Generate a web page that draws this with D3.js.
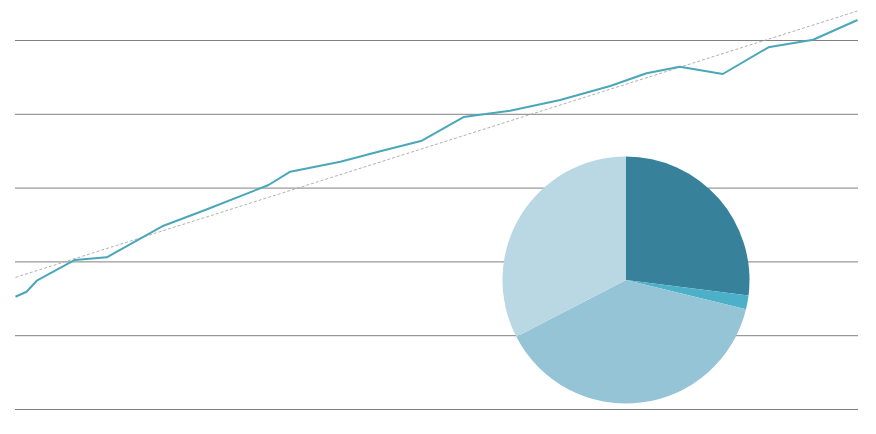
<!DOCTYPE html>
<html>
<head>
<meta charset="utf-8">
<script src="https://cdn.jsdelivr.net/npm/d3@7"></script>
<style>
  html, body { margin: 0; padding: 0; background: #fff; }
  svg { display: block; }
</style>
</head>
<body>
<svg id="chart" width="876" height="434"></svg>
<script>
// ---- data ----
const years = [2000.0, 2000.25, 2000.48, 2001.34, 2002.06, 2003.34, 2004.28, 2005.71, 2006.2, 2007.33, 2008.23,
  2009.17, 2010.11, 2011.16, 2012.29, 2013.42, 2014.24, 2014.99, 2015.96, 2016.99, 2018.0, 2019.0];
const values = [15.28, 15.96, 17.45, 20.26, 20.62, 24.9, 27.03, 30.42, 32.22, 33.58, 35.0,
  36.42, 39.63, 40.49, 41.94, 43.83, 45.56, 46.45, 45.46, 49.08, 50.1, 52.78];
const trendYears = [2000, 2019];
const trendValues = [17.9, 54.0];
const gridTicks = [0, 10, 20, 30, 40, 50];
const pieCategories = ["A", "B", "C", "D"];
const pieValues = [27.0, 1.8, 38.6, 32.6];
const pieColors = ["#37829a", "#4cb1c8", "#94c4d6", "#bad8e4"];

// ---- layout ----
const svg = d3.select("#chart");
const x = d3.scaleLinear().domain([2000, 2019]).range([15.5, 857.5]);
const y = d3.scaleLinear().domain([0, 50]).range([409, 40]);

// grid lines
const gridAxis = d3.axisLeft(y).tickValues(gridTicks).tickSize(-(858 - 15)).tickFormat("");
const g = svg.append("g").attr("transform", "translate(15,0)").call(gridAxis);
g.select(".domain").remove();
g.selectAll(".tick line").attr("stroke", "#808080").attr("stroke-width", 1);

// trend line (dashed)
const trend = trendYears.map((d, i) => [d, trendValues[i]]);
svg.append("path")
  .datum(trend)
  .attr("fill", "none")
  .attr("stroke", "#a8a8a8")
  .attr("stroke-width", 0.9)
  .attr("stroke-dasharray", "3,2")
  .attr("d", d3.line().x(d => x(d[0])).y(d => y(d[1]) + 0.5));

// main series
const series = years.map((d, i) => [d, values[i]]);
svg.append("path")
  .datum(series)
  .attr("fill", "none")
  .attr("stroke", "#4aa7ba")
  .attr("stroke-width", 2)
  .attr("stroke-linejoin", "round")
  .attr("d", d3.line().x(d => x(d[0])).y(d => y(d[1]) + 0.5));

// pie
const pie = d3.pie().sort(null).value(d => d.v);
const arc = d3.arc().innerRadius(0).outerRadius(123.5);
const pieData = pieCategories.map((c, i) => ({ c, v: pieValues[i], color: pieColors[i] }));
svg.append("g")
  .attr("transform", "translate(626,280)")
  .selectAll("path")
  .data(pie(pieData))
  .join("path")
  .attr("d", arc)
  .attr("fill", d => d.data.color);
</script>
</body>
</html>
